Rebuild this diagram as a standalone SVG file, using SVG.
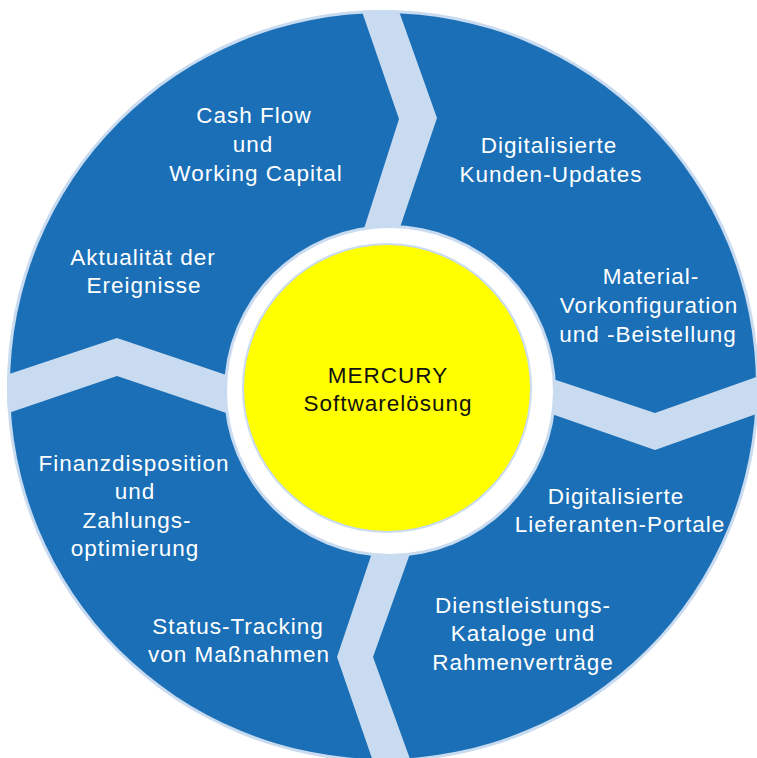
<svg xmlns="http://www.w3.org/2000/svg" width="757" height="758" viewBox="0 0 757 758">
<defs>
<clipPath id="outer"><circle cx="383" cy="386" r="376"/></clipPath>
<style>
.lbl{font-family:"Liberation Sans",Arial,sans-serif;font-size:22.5px;fill:#ffffff;text-anchor:middle;letter-spacing:1px}
.ctr{font-family:"Liberation Sans",Arial,sans-serif;font-size:22.5px;fill:#111111;text-anchor:middle;letter-spacing:1px}
.sep{fill:#c8dbf0}
</style>
</defs>
<rect width="757" height="758" fill="#ffffff"/>
<g id="wheel">
<circle cx="383" cy="386" r="376" fill="#c8dbf0"/>
<circle cx="383" cy="386" r="373" fill="#1a6fb7"/>
</g>
<g id="separators" clip-path="url(#outer)">
<polygon class="sep" points="358,0 399,119 354,260 389,260 437,118 395,0"/>
<polygon class="sep" points="0,377 117,338 250,383 250,421 117,376 0,416"/>
<polygon class="sep" points="520,368 655,413 770,372 770,409 655,450 520,403"/>
<polygon class="sep" points="383,520 337,657 376,770 414,770 373,657 422,520"/>
</g>
<g id="ring">
<circle cx="390" cy="391" r="166" fill="#c8dbf0"/>
<circle cx="390" cy="391" r="163" fill="#ffffff"/>
</g>
<g id="center">
<circle cx="387" cy="388" r="145" fill="#c8dbf0"/>
<circle cx="387" cy="388" r="143" fill="#ffff00"/>
<text class="ctr" x="388" y="383">MERCURY</text>
<text class="ctr" x="388" y="411">Softwarelösung</text>
</g>
<g id="segment-top-left">
<text class="lbl" x="254" y="123">Cash Flow</text>
<text class="lbl" x="253" y="152">und</text>
<text class="lbl" x="256" y="181">Working Capital</text>
<text class="lbl" x="143" y="265">Aktualität der</text>
<text class="lbl" x="144" y="293">Ereignisse</text>
</g>
<g id="segment-top-right">
<text class="lbl" x="549" y="153">Digitalisierte</text>
<text class="lbl" x="551" y="182">Kunden-Updates</text>
<text class="lbl" x="651" y="284">Material-</text>
<text class="lbl" x="649" y="313">Vorkonfiguration</text>
<text class="lbl" x="648" y="342">und -Beistellung</text>
</g>
<g id="segment-bottom-left">
<text class="lbl" x="134" y="471">Finanzdisposition</text>
<text class="lbl" x="135" y="499">und</text>
<text class="lbl" x="137" y="528">Zahlungs-</text>
<text class="lbl" x="135" y="556">optimierung</text>
<text class="lbl" x="238" y="634">Status-Tracking</text>
<text class="lbl" x="239" y="662">von Maßnahmen</text>
</g>
<g id="segment-bottom-right">
<text class="lbl" x="616" y="504">Digitalisierte</text>
<text class="lbl" x="620" y="532">Lieferanten-Portale</text>
<text class="lbl" x="523" y="613">Dienstleistungs-</text>
<text class="lbl" x="523" y="641">Kataloge und</text>
<text class="lbl" x="523" y="670">Rahmenverträge</text>
</g>
</svg>
